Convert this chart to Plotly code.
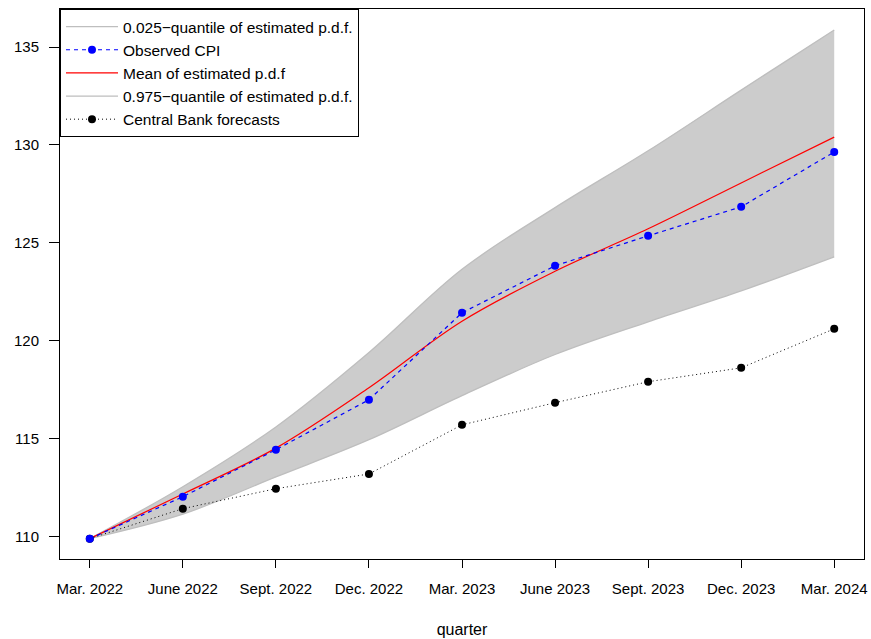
import plotly.graph_objects as go

# Quarterly CPI data (index)
quarters = ["Mar. 2022", "June 2022", "Sept. 2022", "Dec. 2022", "Mar. 2023",
            "June 2023", "Sept. 2023", "Dec. 2023", "Mar. 2024"]
q_lower = [109.9, 111.15, 113.05, 114.95, 117.2, 119.3, 120.97, 122.55, 124.29]
q_upper = [109.9, 112.55, 115.6, 119.4, 123.65, 126.8, 129.7, 132.8, 135.87]
pdf_mean = [109.9, 112.18, 114.52, 117.6, 121.0, 123.55, 125.72, 128.06, 130.4]
observed_cpi = [109.9, 112.04, 114.44, 116.99, 121.43, 123.83, 125.36, 126.84, 129.64]
cb_forecasts = [109.9, 111.43, 112.45, 113.2, 115.71, 116.84, 117.91, 118.62, 120.61]

x = list(range(len(quarters)))

BAND_FILL = "#CCCCCC"
BAND_LINE = "#BEBEBE"
FONT = "Liberation Sans, Arial, sans-serif"

fig = go.Figure()

# Shaded 95% band between the quantiles
fig.add_trace(go.Scatter(x=x, y=q_lower, mode="lines", line=dict(color=BAND_LINE, width=0, shape="spline"),
                         showlegend=False, hoverinfo="skip"))
fig.add_trace(go.Scatter(x=x, y=q_upper, mode="lines", line=dict(color=BAND_LINE, width=0, shape="spline"),
                         fill="tonexty", fillcolor=BAND_FILL, showlegend=False, hoverinfo="skip"))

# Quantile boundaries
fig.add_trace(go.Scatter(x=x, y=q_lower, mode="lines", name="0.025\u2212quantile of estimated p.d.f.",
                         line=dict(color=BAND_LINE, width=1.3, shape="spline"), legendrank=1))
fig.add_trace(go.Scatter(x=x, y=q_upper, mode="lines", name="0.975\u2212quantile of estimated p.d.f.",
                         line=dict(color=BAND_LINE, width=1.3, shape="spline"), legendrank=4))

# Mean of the estimated density
fig.add_trace(go.Scatter(x=x, y=pdf_mean, mode="lines", name="Mean of estimated p.d.f",
                         line=dict(color="#FF0000", width=1.2, shape="spline"), legendrank=3))

# Central bank forecasts
fig.add_trace(go.Scatter(x=x, y=cb_forecasts, mode="lines+markers", name="Central Bank forecasts",
                         line=dict(color="black", width=1, dash="1px,3px"),
                         marker=dict(color="black", size=8), legendrank=5))

# Observed CPI
fig.add_trace(go.Scatter(x=x, y=observed_cpi, mode="lines+markers", name="Observed CPI",
                         line=dict(color="#0000FF", width=1.2, dash="4px,4px"),
                         marker=dict(color="#0000FF", size=8), legendrank=2))

fig.update_layout(
    width=871, height=639,
    margin=dict(l=60, r=4, t=9, b=79),
    plot_bgcolor="white", paper_bgcolor="white",
    font=dict(family=FONT, size=15, color="black"),
    legend=dict(x=0, y=1, xanchor="left", yanchor="top", traceorder="normal",
                bgcolor="white", bordercolor="black", borderwidth=1,
                font=dict(family=FONT, size=15.5, color="black"),
                tracegroupgap=0, itemwidth=52),
    xaxis=dict(range=[-0.32, 8.32], tickvals=x, ticktext=quarters,
               showgrid=False, zeroline=False, showline=True, mirror=True,
               linecolor="black", linewidth=1, ticks="outside", ticklen=8,
               tickcolor="black", ticklabelstandoff=8,
               title=dict(text="quarter", font=dict(size=16), standoff=27)),
    yaxis=dict(range=[108.86, 136.94], tickvals=[110, 115, 120, 125, 130, 135],
               showgrid=False, zeroline=False, showline=True, mirror=True,
               linecolor="black", linewidth=1, ticks="outside", ticklen=10,
               tickcolor="black", ticklabelstandoff=7),
)

fig.write_html("out.html")
